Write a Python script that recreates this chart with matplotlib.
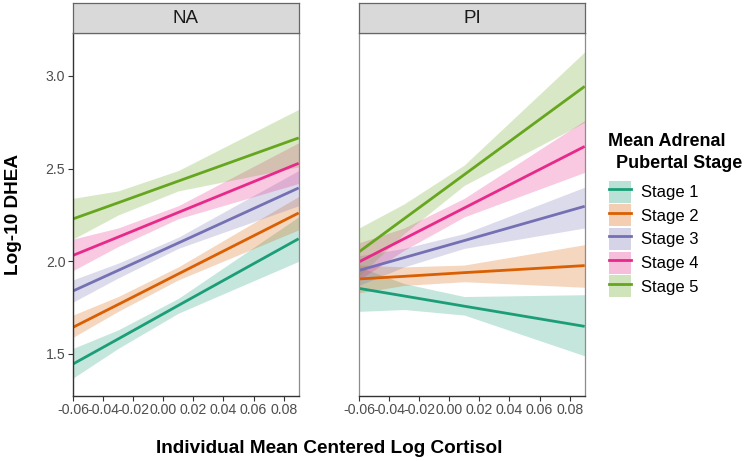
import matplotlib
matplotlib.use("Agg")
import matplotlib.pyplot as plt
from matplotlib.patches import Patch
from matplotlib.lines import Line2D

plt.rcParams['font.family'] = ['Liberation Sans', 'DejaVu Sans']

panels = ["NA", "PI"]
stages = ["Stage 1", "Stage 2", "Stage 3", "Stage 4", "Stage 5"]
colors = ["#1B9E77", "#D95F02", "#7570B3", "#E7298A", "#66A61E"]
x_pts = [-0.06, -0.03, 0.01, 0.09]

# fitted values at x_pts
fit_na = [
    [1.446, 1.581, 1.762, 2.122],
    [1.644, 1.767, 1.932, 2.261],
    [1.840, 1.951, 2.099, 2.396],
    [2.032, 2.131, 2.264, 2.529],
    [2.229, 2.316, 2.433, 2.666],
]
low_na = [
    [1.37, 1.53, 1.72, 2.00],
    [1.59, 1.73, 1.90, 2.17],
    [1.78, 1.91, 2.07, 2.30],
    [1.95, 2.08, 2.23, 2.42],
    [2.12, 2.25, 2.38, 2.51],
]
up_na = [
    [1.53, 1.63, 1.80, 2.24],
    [1.71, 1.81, 1.97, 2.35],
    [1.90, 1.99, 2.13, 2.49],
    [2.12, 2.18, 2.30, 2.64],
    [2.34, 2.38, 2.49, 2.82],
]
fit_pi = [
    [1.854, 1.813, 1.758, 1.649],
    [1.905, 1.919, 1.939, 1.977],
    [1.951, 2.020, 2.112, 2.297],
    [1.997, 2.122, 2.288, 2.620],
    [2.051, 2.230, 2.468, 2.944],
]
low_pi = [
    [1.73, 1.74, 1.71, 1.49],
    [1.83, 1.87, 1.89, 1.86],
    [1.87, 1.97, 2.07, 2.18],
    [1.90, 2.06, 2.24, 2.48],
    [1.92, 2.15, 2.41, 2.75],
]
up_pi = [
    [1.97, 1.88, 1.81, 1.82],
    [1.98, 1.97, 1.98, 2.09],
    [2.03, 2.07, 2.15, 2.40],
    [2.10, 2.18, 2.34, 2.76],
    [2.18, 2.31, 2.52, 3.13],
]
fits = {"NA": fit_na, "PI": fit_pi}
lows = {"NA": low_na, "PI": low_pi}
ups = {"NA": up_na, "PI": up_pi}

y_ticks = [1.5, 2.0, 2.5, 3.0]
x_ticks = [-0.06, -0.04, -0.02, 0.00, 0.02, 0.04, 0.06, 0.08]

W, H = 750, 461
fig = plt.figure(figsize=(7.5, 4.61), dpi=100)

left_px = [73, 359]
pw = 226
top_px, bot_px = 33, 395.7
for i, name in enumerate(panels):
    ax = fig.add_axes([left_px[i] / W, 1 - bot_px / H, pw / W, (bot_px - top_px) / H])
    for k in range(5):
        ax.fill_between(x_pts, lows[name][k], ups[name][k], color=colors[k], alpha=0.25, lw=0)
    for k in range(5):
        ax.plot(x_pts, fits[name][k], color=colors[k], lw=2.0, solid_capstyle='butt')
    ax.set_xlim(-0.06, 0.0902)
    ax.set_ylim(1.275, 3.232)
    ax.set_xticks(x_ticks)
    ax.set_xticklabels([f"{v:.2f}" for v in x_ticks])
    ax.tick_params(axis='both', labelsize=10.2, labelcolor='#4D4D4D', color='#333333', length=3.5, width=0.8, pad=2)
    for s in ['top', 'right']:
        ax.spines[s].set_color('#8C8C8C')
        ax.spines[s].set_linewidth(0.9)
    ax.spines['bottom'].set_color('#333333')
    ax.spines['bottom'].set_linewidth(1.0)
    if i == 0:
        ax.set_yticks(y_ticks)
        ax.set_yticklabels([f"{v:.1f}" for v in y_ticks])
        ax.spines['left'].set_color('#333333')
        ax.spines['left'].set_linewidth(1.0)
    else:
        ax.set_yticks([])
        ax.spines['left'].set_color('#8C8C8C')
        ax.spines['left'].set_linewidth(0.9)
    # strip
    sax = fig.add_axes([left_px[i] / W, 1 - top_px / H, pw / W, 30 / H])
    sax.set_xticks([]); sax.set_yticks([])
    sax.set_facecolor('#D9D9D9')
    for s in sax.spines.values():
        s.set_color('#666666')
        s.set_linewidth(0.9)
    sax.text(0.5, 0.47, name, ha='center', va='center', fontsize=13.5, color='#1A1A1A', transform=sax.transAxes)

fig.text(329 / W, 1 - 448 / H, "Individual Mean Centered Log Cortisol", ha='center', va='center',
         fontsize=13.7, fontweight='bold', color='#000000')
fig.text(14 / W, 1 - 214 / H, "Log-10 DHEA", ha='center', va='center', rotation=90,
         fontsize=13.7, fontweight='bold', color='#000000')

# legend title
fig.text(608 / W, 1 - 146 / H, "Mean Adrenal", ha='left', va='baseline',
         fontsize=13, fontweight='bold', color='#000000')
fig.text(611 / W, 1 - 168 / H, " Pubertal Stage", ha='left', va='baseline',
         fontsize=13, fontweight='bold', color='#000000')

handles = [(Patch(facecolor=c, alpha=0.3, lw=0), Line2D([], [], color=c, lw=2)) for c in colors]
leg = fig.legend(handles, stages, loc='upper left', bbox_to_anchor=(609 / W, 1 - 180.7 / H),
                 frameon=False, fontsize=12,
                 handlelength=1.32, handleheight=1.654, labelspacing=0.1, handletextpad=0.6,
                 borderpad=0, borderaxespad=0)

fig.savefig("out.png", dpi=100)
